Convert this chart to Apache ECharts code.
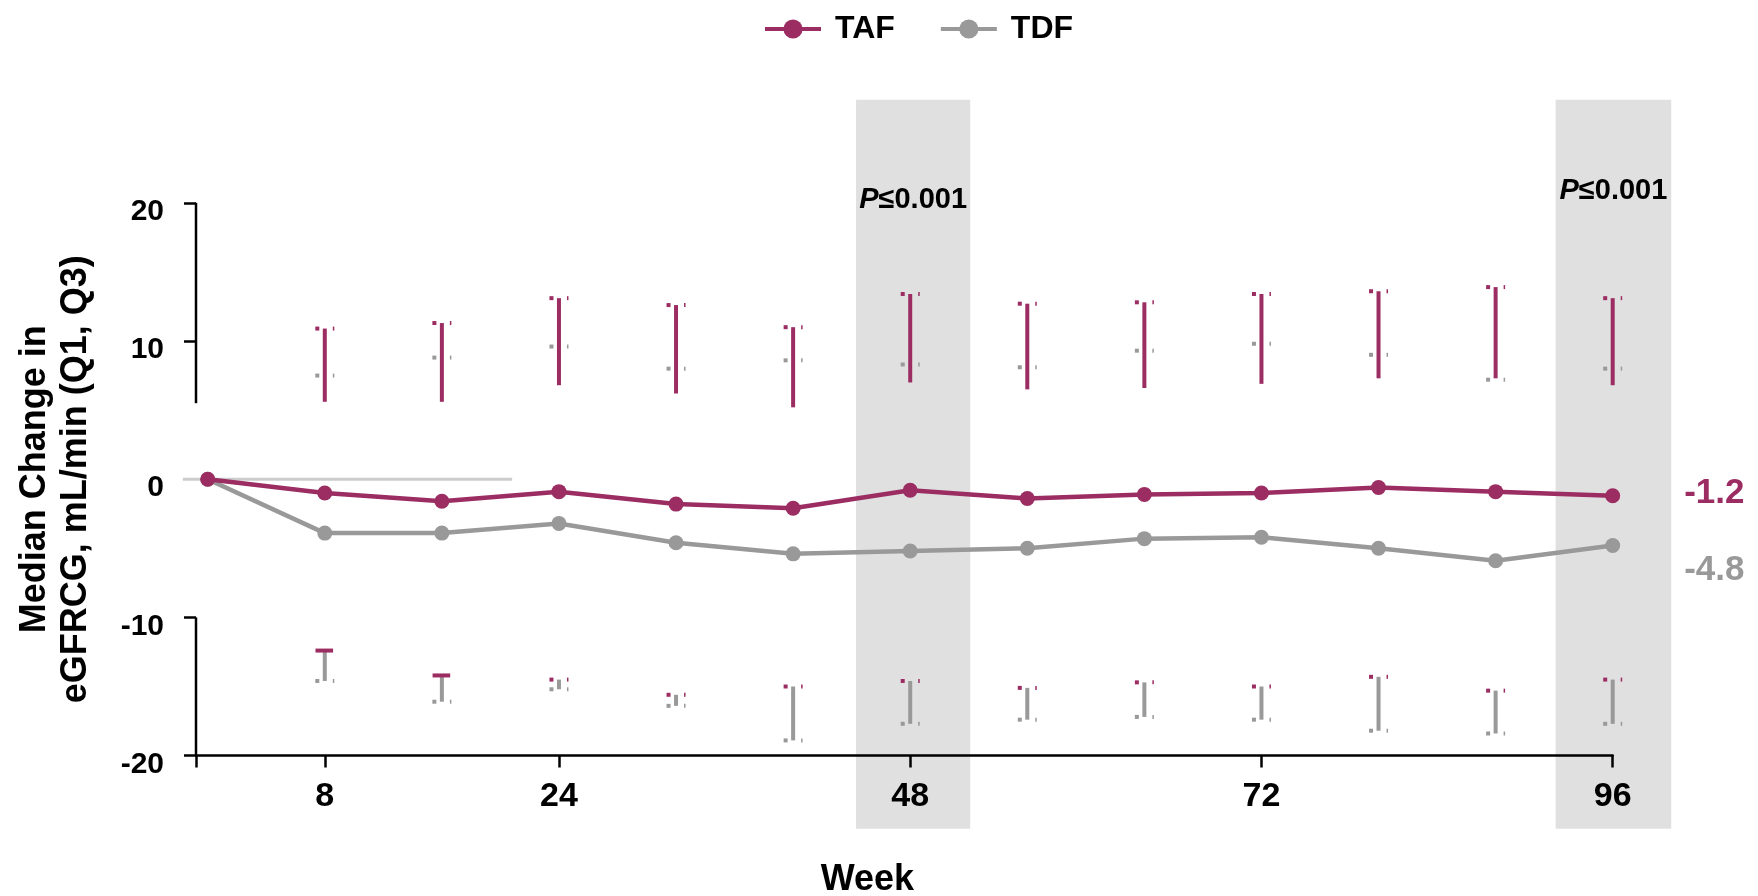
<!DOCTYPE html>
<html>
<head>
<meta charset="utf-8">
<title>Median Change in eGFRCG</title>
<script src="https://cdn.jsdelivr.net/npm/echarts@6/dist/echarts.min.js"></script>
<style>
  html, body { margin: 0; padding: 0; background: #ffffff; }
  #chart { width: 1758px; height: 896px; }
</style>
</head>
<body>
<div id="chart"></div>
<script>
// ---- data ----
const weeks     = [0, 8, 16, 24, 32, 40, 48, 56, 64, 72, 80, 88, 96];
const tafMedian = [0, -1.0, -1.6, -0.9, -1.8, -2.1, -0.8, -1.4, -1.1, -1.0, -0.6, -0.9, -1.2];
const tdfMedian = [0, -3.9, -3.9, -3.2, -4.6, -5.4, -5.2, -5.0, -4.3, -4.2, -5.0, -5.9, -4.8];

// quartile whiskers per visit (weeks 8..96)
const barWeeks        = [8, 16, 24, 32, 40, 48, 56, 64, 72, 80, 88, 96];
const tafQ3           = [10.9, 11.3, 13.1, 12.6, 11.0, 13.4, 12.7, 12.8, 13.4, 13.6, 13.9, 13.1];
const tafUpperStemEnd = [5.6, 5.6, 6.8, 6.2, 5.2, 7.0, 6.5, 6.6, 6.9, 7.3, 7.3, 6.8];
const tdfQ3           = [7.5, 8.8, 9.6, 8.0, 8.6, 8.3, 8.1, 9.3, 9.8, 9.0, 7.2, 8.0];
const tafQ1           = [-12.4, -14.2, -14.5, -15.6, -15.0, -14.6, -15.1, -14.7, -15.0, -14.3, -15.3, -14.5];
const tdfQ1           = [-14.6, -16.1, -15.2, -16.4, -18.9, -17.7, -17.4, -17.2, -17.4, -18.2, -18.4, -17.7];

// axis ticks
const xTickLabels = [8, 24, 48, 72, 96];
const yTickLabels = [-20, -10, 0, 10, 20];
const yTickMarks  = [-20, -10, 10, 20];

// highlighted visits with p-values
const bandStart = [44.3, 92.1];
const bandEnd   = [52.1, 100.0];
const bandText  = ['P≤0.001', 'P≤0.001'];

// ---- style ----
const PURPLE = '#9b2d62';
const GREY   = '#999999';
const BAND   = '#e0e0e0';
const FONT   = '"Liberation Sans", Arial, Helvetica, sans-serif';
const X_MIN = -0.8, X_MAX = 96;
const BAND_TOP = 27.45, BAND_BOTTOM = -25.3;
const bandLabelDy = [-3, -12];
const yAxisSpans = [[20, 5.5], [-10, -20]];
const zeroRefSpan = [-1.7, 20.8];
const solidCapWeeks = new Set([8, 16]);

const chart = echarts.init(document.getElementById('chart'), null, { renderer: 'canvas' });

function lineSeries(name, values, color, labelOffset) {
  const last = values.length - 1;
  return {
    name: name,
    type: 'line',
    clip: false,
    z: name === 'TAF' ? 6 : 5,
    symbol: 'circle',
    symbolSize: 15,
    lineStyle: { width: 4.5, color: color },
    itemStyle: { color: color },
    emphasis: { disabled: true },
    data: weeks.map((w, i) => {
      if (i !== last) return [w, values[i]];
      return {
        value: [w, values[i]],
        label: {
          show: true,
          position: 'right',
          distance: 64,
          offset: [0, labelOffset],
          formatter: p => p.value[1].toFixed(1),
          fontFamily: FONT,
          fontSize: 35,
          fontWeight: 'bold',
          color: color
        }
      };
    })
  };
}

const option = {
  backgroundColor: '#ffffff',
  animation: false,
  textStyle: { fontFamily: FONT },
  legend: {
    data: ['TAF', 'TDF'],
    left: 758,
    top: 8,
    itemWidth: 56,
    itemHeight: 24,
    itemGap: 44,
    lineStyle: { width: 4 },
    selectedMode: false,
    textStyle: { fontFamily: FONT, fontSize: 32, fontWeight: 'bold', color: '#000', padding: [4, 0, 0, 9] }
  },
  grid: { left: 196, right: 145.3, top: 202.8, bottom: 140.4, containLabel: false, outerBoundsMode: 'none' },
  xAxis: {
    type: 'value',
    min: X_MIN,
    max: X_MAX,
    name: 'Week',
    nameLocation: 'middle',
    nameGap: 106,
    nameTextStyle: { fontFamily: FONT, fontSize: 36, fontWeight: 'bold', color: '#000', padding: [0, 74, 0, 0] },
    axisLine: { show: true, onZero: false, lineStyle: { color: '#000', width: 2.5 } },
    axisTick: { show: true, length: 12, lineStyle: { color: '#000', width: 2.5 }, customValues: [X_MIN].concat(xTickLabels) },
    axisLabel: { customValues: xTickLabels, margin: 24, fontFamily: FONT, fontSize: 34, fontWeight: 'bold', color: '#000' },
    splitLine: { show: false }
  },
  yAxis: {
    type: 'value',
    min: -20,
    max: 20,
    interval: 10,
    name: 'Median Change in\neGFRCG, mL/min (Q1, Q3)',
    nameLocation: 'middle',
    nameRotate: 90,
    nameGap: 99,
    nameTextStyle: { fontFamily: FONT, fontSize: 36, fontWeight: 'bold', color: '#000', lineHeight: 41, align: 'center' },
    axisLine: { show: false, onZero: false },
    axisTick: { show: true, length: 12, lineStyle: { color: '#000', width: 2.5 }, customValues: yTickMarks },
    axisLabel: {
      customValues: yTickLabels,
      margin: 32,
      formatter: '{t|{value}}',
      rich: { t: { fontFamily: FONT, fontSize: 30, fontWeight: 'bold', color: '#000', padding: [18, 0, 0, 0] } }
    },
    splitLine: { show: false }
  },
  series: [
    // shaded visit bands with p-value captions
    {
      type: 'custom',
      silent: true,
      clip: false,
      z: 0,
      data: bandStart.map((s, i) => [s, bandEnd[i], i]),
      renderItem: function (params, api) {
        const p0 = api.coord([api.value(0), BAND_TOP]);
        const p1 = api.coord([api.value(1), BAND_BOTTOM]);
        const i = api.value(2);
        const topY = api.coord([api.value(0), 20])[1];
        const txt = bandText[i];
        return {
          type: 'group',
          children: [
            { type: 'rect', shape: { x: p0[0], y: p0[1], width: p1[0] - p0[0], height: p1[1] - p0[1] }, style: { fill: BAND } },
            {
              type: 'text',
              x: (p0[0] + p1[0]) / 2,
              y: topY + bandLabelDy[i],
              style: {
                text: '{i|' + txt.charAt(0) + '}{n|' + txt.slice(1) + '}',
                align: 'center',
                verticalAlign: 'middle',
                rich: {
                  i: { fontFamily: FONT, fontSize: 29, fontWeight: 'bold', fontStyle: 'italic', fill: '#000' },
                  n: { fontFamily: FONT, fontSize: 29, fontWeight: 'bold', fill: '#000' }
                }
              }
            }
          ]
        };
      }
    },
    // y axis line segments
    {
      type: 'custom',
      silent: true,
      clip: false,
      z: 2,
      data: yAxisSpans,
      renderItem: function (params, api) {
        const a = api.coord([X_MIN, api.value(0)]);
        const b = api.coord([X_MIN, api.value(1)]);
        return { type: 'line', shape: { x1: a[0], y1: a[1], x2: b[0], y2: b[1] }, style: { stroke: '#000', lineWidth: 2.5 } };
      }
    },
    // zero reference
    {
      type: 'custom',
      silent: true,
      clip: false,
      z: 1,
      data: [zeroRefSpan],
      renderItem: function (params, api) {
        const a = api.coord([api.value(0), 0]);
        const b = api.coord([api.value(1), 0]);
        return { type: 'line', shape: { x1: a[0], y1: a[1], x2: b[0], y2: b[1] }, style: { stroke: '#cccccc', lineWidth: 3 } };
      }
    },
    // quartile whiskers
    {
      type: 'custom',
      silent: true,
      clip: false,
      z: 3,
      data: barWeeks.map((w, i) => [w, tafQ3[i], tdfQ3[i], tafUpperStemEnd[i], tafQ1[i], tdfQ1[i]]),
      renderItem: function (params, api) {
        const wk = api.value(0);
        const x = api.coord([wk, 0])[0];
        const y = v => api.coord([wk, v])[1];
        const yTq3 = y(api.value(1)), yDq3 = y(api.value(2)), yStem = y(api.value(3));
        const yTq1 = y(api.value(4)), yDq1 = y(api.value(5));
        const stem = (y1, y2, color) => ({
          type: 'rect',
          shape: { x: x - 2, y: Math.min(y1, y2), width: 4, height: Math.abs(y2 - y1) },
          style: { fill: color }
        });
        const splitCap = (yy, color) => [
          { type: 'rect', shape: { x: x - 9.5, y: yy - 2, width: 4, height: 4 }, style: { fill: color } },
          { type: 'rect', shape: { x: x + 8, y: yy - 2, width: 1.5, height: 4 }, style: { fill: color } }
        ];
        const solidCap = (yy, color) => ({
          type: 'rect', shape: { x: x - 9.3, y: yy - 2, width: 17.6, height: 4 }, style: { fill: color }
        });
        const children = [];
        children.push(...splitCap(yDq3, GREY));
        children.push(stem(yTq3, yStem, PURPLE));
        children.push(...splitCap(yTq3, PURPLE));
        children.push(stem(yTq1, yDq1, GREY));
        children.push(...splitCap(yDq1, GREY));
        if (solidCapWeeks.has(wk)) children.push(solidCap(yTq1, PURPLE));
        else children.push(...splitCap(yTq1, PURPLE));
        return { type: 'group', children: children };
      }
    },
    lineSeries('TDF', tdfMedian, GREY, 25),
    lineSeries('TAF', tafMedian, PURPLE, -2)
  ]
};

chart.setOption(option);
</script>
</body>
</html>
